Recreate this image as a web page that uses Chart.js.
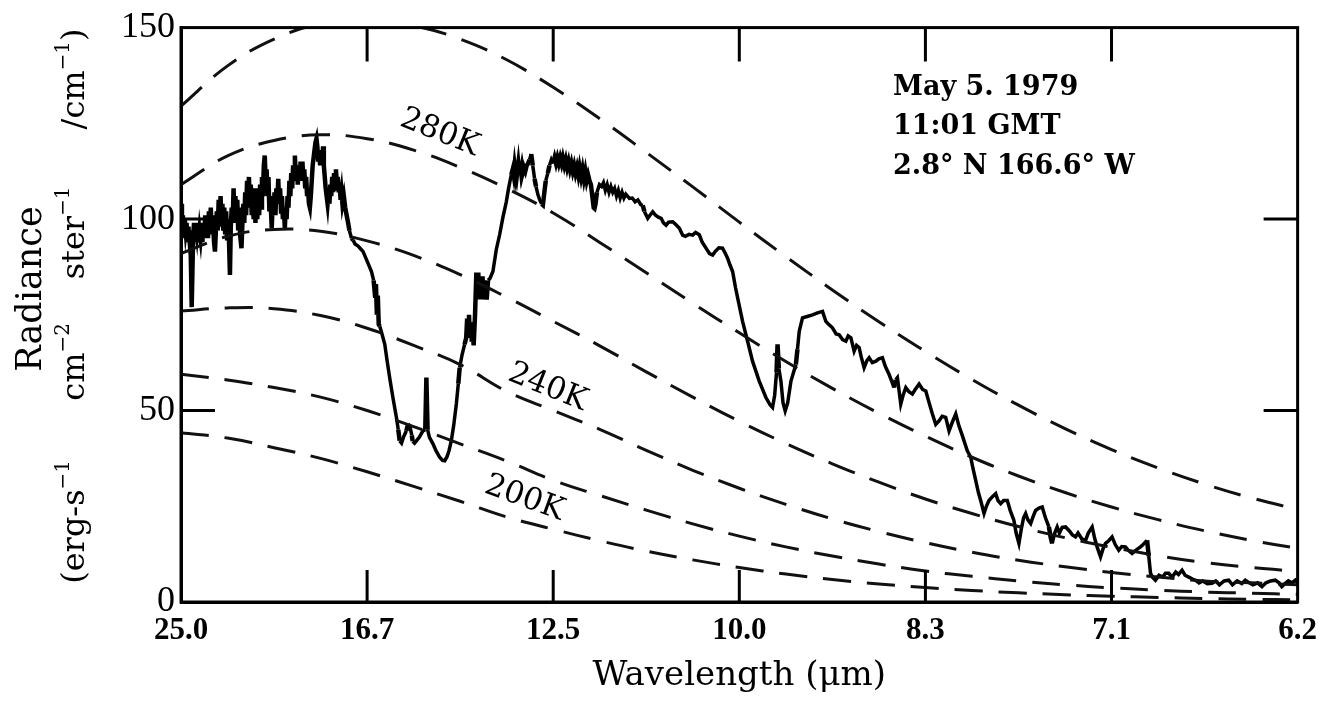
<!DOCTYPE html>
<html lang="en">
<head>
<meta charset="UTF-8" />
<title>Radiance spectrum, May 5 1979</title>
<script src="https://cdn.jsdelivr.net/npm/chart.js"></script>
<style>
  html, body { margin: 0; padding: 0; background: #fff; }
</style>
</head>
<body>
<canvas id="chart" width="1327" height="702"></canvas>
<script>
// x axis is linear in wavenumber (cm-1), labelled with wavelength (um)
const tickWavenumbers = [400, 600, 800, 1000, 1200, 1400, 1600];
const tickWavelengths = ['25.0', '16.7', '12.5', '10.0', '8.3', '7.1', '6.2'];
const radianceTicks = [0, 50, 100, 150];

// dashed blackbody reference curves
const curveWavenumbers = [400, 450, 500, 550, 600, 650, 700, 750, 800, 850, 900, 950, 1000,
  1050, 1100, 1150, 1200, 1250, 1300, 1350, 1400, 1450, 1500, 1550, 1600];
const bb300 = [129.5, 140, 147, 151, 152, 150.5, 147, 141.6, 134.4, 126.2, 117.4, 108.4, 99.2,
  90.2, 81.5, 73.2, 65.4, 58.1, 51.4, 45.3, 39.8, 35, 30.8, 27.2, 24.2];
const bb280 = [109, 116.5, 120.5, 122, 121, 118, 113.5, 108, 101.6, 93.9, 86.0, 78.0, 70.3,
  62.8, 55.8, 49.3, 43.3, 37.8, 32.9, 28.6, 24.8, 21.5, 18.6, 16.1, 14];
const bb260 = [91, 95.5, 97.3, 96.8, 94.3, 90.5, 85.5, 79.6, 73.3, 66.9, 60.1, 53.5, 47.2,
  41.4, 36.1, 31.3, 26.9, 23.1, 19.7, 16.8, 14.3, 12.1, 10.3, 9, 8];
const bb240 = [76, 76.8, 76.6, 74.8, 71.5, 67, 62, 55, 50, 45.1, 39.6, 34.4, 29.7,
  25.5, 21.7, 18.4, 15.5, 13, 10.9, 9.2, 7.7, 6.5, 5.5, 5, 4.5];
const bb220 = [59.5, 58, 56, 53.5, 50, 45.8, 41.3, 36.8, 31.8, 27.8, 24, 20.4, 17.2,
  14.4, 12, 9.9, 8.1, 6.7, 5.5, 4.5, 3.7, 3.1, 2.6, 2.3, 2];
const bb200 = [44.2, 42.8, 40.3, 37.5, 34, 30.2, 26.3, 22.2, 19, 16, 13.3, 11, 9,
  7.3, 5.9, 4.7, 3.8, 3, 2.4, 1.9, 1.5, 1.2, 0.9, 0.7, 0.6];

// measured spectrum
const specWavenumbers = [
  400, 401, 402, 403, 404, 405, 406, 407, 408, 409, 410, 411.5, 413, 414, 415, 416, 417, 418, 419, 420,
  421, 422, 423, 424, 425, 426, 427, 428, 429, 430, 431, 432, 433, 434, 435.5, 436.5, 437.5, 438.5, 439.5, 440.5,
  441.5, 442.5, 443.5, 444.5, 445.5, 446.5, 447.5, 448.5, 449.5, 450.5, 451.5, 452.6, 453.5, 454.5, 455.5, 456.5, 457.5, 458.5, 459.5, 460.5,
  461.5, 462.5, 463.5, 465, 466, 467, 468, 469, 470, 471, 472, 473, 474, 475, 476, 477, 478, 479, 480, 481,
  482, 483, 484, 485, 486, 487, 488, 489, 490, 491, 492, 493, 494, 495, 496, 497.5, 498.5, 499.5, 500.5, 501.5,
  502.5, 503.5, 504.5, 505.5, 506.5, 507.5, 508.5, 509.5, 510.5, 511.6, 512.5, 513.5, 514.5, 515.5, 516.5, 517.5, 518.5, 519.5, 520.5, 521.5,
  522.4, 523.5, 524.5, 525.5, 526.5, 527.5, 528.5, 529.5, 530.5, 531.5, 532.5, 533.5, 534.5, 535.5, 536.5, 537.5, 538.5, 539.5, 540.5, 541.5,
  542.5, 543.5, 544.5, 545.6, 546.5, 547.5, 548.5, 549.5, 550.5, 551.5, 552.7, 553.5, 554.5, 555.5, 556.5, 557.5, 558.5, 559.5, 560.5, 561.5,
  562.5, 563.5, 564.5, 565.5, 566.5, 567.5, 568.5, 569.5, 570.5, 571.5, 572.5, 573.5, 575, 576.5, 578, 579.6, 581, 583.2, 585, 587,
  590, 592, 595.7, 600, 604.7, 607, 608.5, 609.5, 610.5, 611.5, 612.5, 613.6, 616, 619, 621.5, 624.3, 628, 631.5, 633.5, 635,
  637, 639, 642.2, 644, 646, 648, 649, 651, 653, 656, 660, 662.5, 663.7, 665, 667, 670.8, 674, 678, 681, 683.4,
  686, 688, 690.5, 693, 695.9, 698, 699.5, 702, 704.8, 706.5, 707.5, 708.5, 709.5, 710.5, 711.5, 712.5, 713.7, 714.5, 716, 717.4,
  718.5, 719.5, 720.5, 721.5, 722.5, 724, 725.5, 727, 728.5, 730, 732, 735.2, 738.8, 742.4, 746, 749.6, 752, 754.9, 756.5, 757.5,
  758.5, 759.5, 760.5, 761.5, 762.5, 763.5, 764.5, 765.5, 766.5, 767.5, 768.5, 770, 771.5, 773, 774.5, 776.4, 778, 780, 781.5, 783.5,
  785.5, 787.5, 788.9, 790.5, 792, 794.2, 796, 798, 800, 801.5, 803, 804.5, 806, 807.5, 809, 810.3, 812, 813.5, 815, 816.5,
  818, 819.5, 821, 822.5, 824, 825.5, 827, 828.3, 830, 831.5, 833, 834.5, 836, 837.5, 839, 840.5, 842, 843.5, 844.4, 845.5,
  847, 849.7, 852, 854, 856, 858, 860, 862, 864, 866, 868, 870, 872, 874, 876, 878, 881.9, 885, 888, 891,
  894, 896.2, 898, 901.6, 904, 907, 910, 913, 916, 918.5, 921.3, 924, 928.4, 932, 935.6, 939.1, 942, 946, 949.9, 953,
  957, 960, 964.2, 968, 971.3, 974, 978, 982, 985, 987.4, 990, 992.8, 996, 998.2, 1003.5, 1008.9, 1014.2, 1021.4, 1028.6, 1033,
  1035.7, 1038, 1040, 1041.1, 1042.5, 1044.7, 1047, 1049.3, 1052, 1055.5, 1060.8, 1062.5, 1064.4, 1067.9, 1072, 1078.7, 1084, 1089.4, 1093, 1096,
  1100.1, 1104, 1107.3, 1111, 1114.5, 1117, 1119.9, 1123.4, 1126, 1128.8, 1131, 1134.1, 1137, 1139.5, 1143, 1146.7, 1150, 1153.8, 1157, 1161,
  1164, 1166.3, 1168, 1169.9, 1173.5, 1176, 1178.9, 1182, 1186, 1189, 1193.2, 1197, 1200.4, 1204, 1207.5, 1211.1, 1214.6, 1218, 1221.8, 1225.4,
  1229, 1232.6, 1236, 1239.6, 1245, 1248.7, 1251, 1254.1, 1257, 1259.4, 1263, 1265.5, 1268.3, 1272, 1275.5, 1278, 1280.9, 1284, 1288, 1291,
  1295.1, 1297.5, 1300.5, 1303, 1305.5, 1307.7, 1310, 1313.1, 1316, 1318.4, 1322, 1325.5, 1329, 1332.7, 1334.5, 1336.2, 1339, 1341.6, 1344, 1347,
  1350.6, 1355, 1358, 1361.3, 1364, 1368, 1372.1, 1375, 1379.2, 1382, 1384.5, 1388.2, 1391, 1393.5, 1397, 1400.6, 1404, 1407.8, 1411, 1415,
  1418, 1422.1, 1426, 1431.1, 1434, 1438.2, 1440, 1441.9, 1444, 1447.2, 1451, 1455, 1458, 1461.5, 1465, 1469, 1472, 1475.8, 1479, 1483,
  1487, 1490.2, 1494, 1498, 1503, 1508, 1512, 1516, 1521, 1525.9, 1530, 1535, 1540, 1543.8, 1548, 1552, 1557, 1561.7, 1566, 1571,
  1576, 1580, 1583, 1586.8, 1590, 1594, 1597.5, 1600
];
const specRadiance = [
  104, 95, 101, 96, 100, 97, 99, 94, 98, 95, 97, 77, 95, 99, 94, 98, 96, 99, 94, 97,
  95, 98, 94, 99, 95, 101, 96, 100, 95, 102, 97, 103, 96, 101, 94, 91.5, 97, 102, 97, 105,
  98, 106, 99, 104, 97, 103, 96, 102, 95, 100, 95, 85.4, 98, 103, 99, 108, 100, 106, 99, 105,
  97, 103, 96, 92.4, 99, 104, 99, 107, 101, 110, 104, 111, 103, 109, 101, 108, 100, 107, 99, 108,
  100, 106, 101, 109, 103, 111, 106, 114, 116.6, 110, 113, 106, 111, 102, 106, 97.6, 104, 101, 107, 101,
  108, 104, 110.5, 104, 108, 102, 106, 100, 103, 97.6, 103, 100, 106, 103, 110, 106, 112, 108, 114, 111,
  116.6, 110, 114, 109, 114, 110, 115, 111, 115, 110, 113, 108, 111, 106, 108, 104, 103, 106, 110, 114,
  116, 118, 120, 121, 119, 115, 118, 114, 118, 115, 119, 114, 111, 108, 106, 104, 107, 104, 109, 106,
  111, 107, 112, 108, 113, 109, 111, 107, 109, 105, 107, 104, 106, 103, 101, 99, 97, 95, 94.5, 93.5,
  93, 92.5, 91.5, 89, 86.3, 84, 80, 83, 75, 80, 72.5, 72, 70, 67.3, 63, 58.5, 53, 48.2, 45, 42.1,
  41.5, 43, 44.7, 46.5, 46, 43.5, 42, 41.5, 42.1, 43, 44.7, 45, 58.6, 45, 43, 41.3, 39.5, 37.8, 37, 36.9,
  38, 39.5, 42.1, 46, 51.7, 57, 61.2, 64.5, 67.3, 69, 74, 71, 75, 69, 73, 68, 70, 67, 75, 86,
  80, 86, 79, 85, 79, 85, 79, 84, 79, 84, 84.5, 86.3, 92, 95.9, 100.5, 104.5, 108, 111.5, 113, 111.5,
  114, 112, 115, 112.5, 114.5, 112, 115, 112.5, 114, 112.5, 113.5, 112.5, 114, 114.5, 115.5, 117, 114, 110.5, 108.5, 106.5,
  105, 104, 103.7, 107, 110, 112, 114, 115.5, 114.5, 116, 114.5, 116, 114.5, 116, 114.5, 116, 114, 115.5, 113.5, 115,
  113, 114.5, 112.5, 114, 112, 113.5, 111.5, 113.5, 111, 113, 110.5, 112.5, 110, 111.5, 110, 109, 106, 103, 102.8, 104,
  107, 109, 108.5, 109.5, 107.5, 109, 107, 108.5, 107, 108, 106, 107.5, 105.5, 107, 105.5, 106.5, 105.4, 105.5, 104.5, 105,
  103.8, 103.6, 102, 100.2, 101, 101.9, 101, 100.5, 100.2, 99, 98.4, 99.2, 99.3, 98.5, 97.6, 95.8, 95.5, 96, 95.8, 96.5,
  95.9, 94, 92.4, 91, 90.6, 91.5, 92.5, 92.4, 91, 89.8, 88, 86.3, 82, 79.4, 73.3, 68.1, 62.9, 57.7, 53.4, 51.5,
  50.8, 54, 60, 67.3, 61, 57.7, 52, 49.9, 52, 57.7, 62, 66, 70.7, 74.2, 74.5, 75, 75.5, 75.9, 73.3, 72.5,
  71.6, 70, 69.8, 68.5, 68.1, 69.5, 69, 65.5, 67, 66.4, 64, 61.2, 63, 63.8, 62.5, 62.9, 63.5, 63.8, 61.5, 59.4,
  57.5, 56, 58, 58.6, 51.7, 54, 56, 55, 54.3, 55.5, 56.9, 55.5, 55.1, 52, 49.1, 46.4, 47.3, 48.5, 48.2, 44.7,
  47, 49.1, 46, 43.5, 39.5, 37.8, 35, 31.7, 28.5, 26.5, 23.1, 25, 26.5, 27.5, 28.3, 26.5, 25.7, 26.5, 26.5, 24,
  21.3, 18, 15.3, 19, 22, 23.1, 21.5, 20.5, 22.5, 23.9, 24.5, 24.8, 22, 19.6, 17, 15.3, 18, 19.6, 18, 19.5,
  19.6, 18.5, 17.5, 17, 18, 16.5, 16.1, 18, 19.6, 16.5, 14.4, 11.8, 14, 15.3, 16, 17, 15, 13.5, 14.5, 14.4,
  13.5, 12.7, 13.5, 14.4, 15, 16.1, 12, 7.5, 6.5, 5.7, 7, 6.5, 7.5, 7.5, 6.5, 7.8, 7.2, 8.3, 7, 6.5,
  6, 5.7, 5, 5.5, 4.8, 4.9, 5.5, 4.5, 5.5, 5.7, 4.5, 5.5, 4.8, 5.7, 5, 4.5, 5, 4, 5, 5.5,
  5.7, 5, 4, 4.9, 5.5, 5, 5.7, 5
];

const curveTemps = ['300K', '280K', '260K', '240K', '220K', '200K'];
const curveSeries = [bb300, bb280, bb260, bb240, bb220, bb200];

const serif = "'Liberation Serif', 'DejaVu Serif', serif";
const wideSerif = "'DejaVu Serif', 'Liberation Serif', serif";
Chart.defaults.color = '#000';
Chart.defaults.font.family = serif;

const curveSets = curveSeries.map((vals, i) => ({
  label: curveTemps[i],
  data: curveWavenumbers.map((w, j) => ({ x: w, y: vals[j] })),
  borderColor: '#111',
  borderWidth: 3,
  borderDash: [28, 16],
  pointRadius: 0,
  tension: 0.4
}));

const spectrumSet = {
  label: 'Spectrum',
  data: specWavenumbers.map((w, i) => ({ x: w, y: specRadiance[i] })),
  borderColor: '#000',
  borderWidth: 3.5,
  pointRadius: 0,
  tension: 0,
  // the closely sampled noisy stretches print as a heavier trace
  segment: {
    borderWidth: c => (c.p1.parsed.x - c.p0.parsed.x < 1.8 ? 4.5 : 3.5)
  }
};

// frame, inward ticks, y title, labels on the curves, caption
const decor = {
  id: 'decor',
  afterDraw(chart) {
    const { ctx, chartArea: a, scales: { x, y } } = chart;
    ctx.save();
    ctx.strokeStyle = '#000';
    ctx.lineWidth = 3;
    ctx.strokeRect(a.left, a.top, a.right - a.left, a.bottom - a.top);

    ctx.beginPath();
    tickWavenumbers.slice(1, -1).forEach(v => {
      const px = x.getPixelForValue(v);
      ctx.moveTo(px, a.bottom); ctx.lineTo(px, a.bottom - 32);
      ctx.moveTo(px, a.top); ctx.lineTo(px, a.top + 34);
    });
    radianceTicks.slice(1, -1).forEach(v => {
      const py = y.getPixelForValue(v);
      ctx.moveTo(a.left, py); ctx.lineTo(a.left + 34, py);
      ctx.moveTo(a.right, py); ctx.lineTo(a.right - 34, py);
    });
    ctx.stroke();

    ctx.fillStyle = '#000';
    ctx.textBaseline = 'middle';

    // y axis title, two rotated lines
    const vtext = (parts, cx, cy, size) => {
      ctx.save();
      ctx.translate(cx, cy);
      ctx.rotate(-Math.PI / 2);
      let w = 0;
      parts.forEach(([t, sup]) => {
        ctx.font = (sup ? size * 0.62 : size) + 'px ' + wideSerif;
        w += ctx.measureText(t).width;
      });
      let xx = -w / 2;
      ctx.textAlign = 'left';
      parts.forEach(([t, sup]) => {
        ctx.font = (sup ? size * 0.62 : size) + 'px ' + wideSerif;
        ctx.fillText(t, xx, sup ? -size * 0.38 : 0);
        xx += ctx.measureText(t).width;
      });
      ctx.restore();
    };
    vtext([['Radiance', 0]], 32, 289, 35);
    vtext([['(erg-s', 0], ['\u22121', 1]], 76, 522, 32);
    vtext([['cm', 0], ['\u22122', 1]], 76, 362, 32);
    vtext([['ster', 0], ['\u22121', 1]], 76, 233, 32);
    vtext([['/cm', 0], ['\u22121', 1], [')', 0]], 76, 79, 32);

    // temperature labels sitting on their curves
    const tag = (text, wn, rad, deg) => {
      ctx.save();
      ctx.translate(x.getPixelForValue(wn), y.getPixelForValue(rad));
      ctx.rotate(deg * Math.PI / 180);
      ctx.font = '31px ' + wideSerif;
      ctx.textAlign = 'center';
      ctx.fillText(text, 0, 0);
      ctx.restore();
    };
    tag('280K', 678, 122.5, 22);
    tag('240K', 794, 56, 22);
    tag('200K', 769, 27, 20);

    // caption
    ctx.font = 'bold 27px ' + wideSerif;
    ctx.textAlign = 'left';
    ctx.fillText('May 5. 1979', 893, 88);
    ctx.fillText('11:01 GMT', 893, 127);
    ctx.fillText('2.8\u00b0 N 166.6\u00b0 W', 893, 167);
    ctx.restore();
  }
};

new Chart(document.getElementById('chart'), {
  type: 'line',
  data: { datasets: [...curveSets, spectrumSet] },
  options: {
    responsive: false,
    animation: false,
    layout: { padding: { left: 0, top: 26, right: 27, bottom: 0 } },
    plugins: { legend: { display: false }, tooltip: { enabled: false } },
    scales: {
      x: {
        type: 'linear',
        min: 400,
        max: 1600,
        afterFit: s => { s.height = 100; },
        afterBuildTicks: s => { s.ticks = tickWavenumbers.map(v => ({ value: v })); },
        grid: { display: false, drawTicks: false },
        border: { display: true, color: '#000', width: 3 },
        ticks: {
          padding: 10,
          maxRotation: 0,
          autoSkip: false,
          font: { size: 31, weight: 'bold' },
          callback: v => tickWavelengths[tickWavenumbers.indexOf(v)]
        },
        title: {
          display: true,
          text: 'Wavelength (\u03bcm)',
          font: { family: wideSerif, size: 34 },
          padding: { top: 0, bottom: 5 }
        }
      },
      y: {
        min: 0,
        max: 150,
        afterFit: s => { s.width = 181; },
        afterBuildTicks: s => { s.ticks = radianceTicks.map(v => ({ value: v })); },
        grid: { display: false, drawTicks: false },
        border: { display: true, color: '#000', width: 3 },
        ticks: { padding: 6, font: { size: 36 } }
      }
    }
  },
  plugins: [decor]
});
</script>
</body>
</html>
